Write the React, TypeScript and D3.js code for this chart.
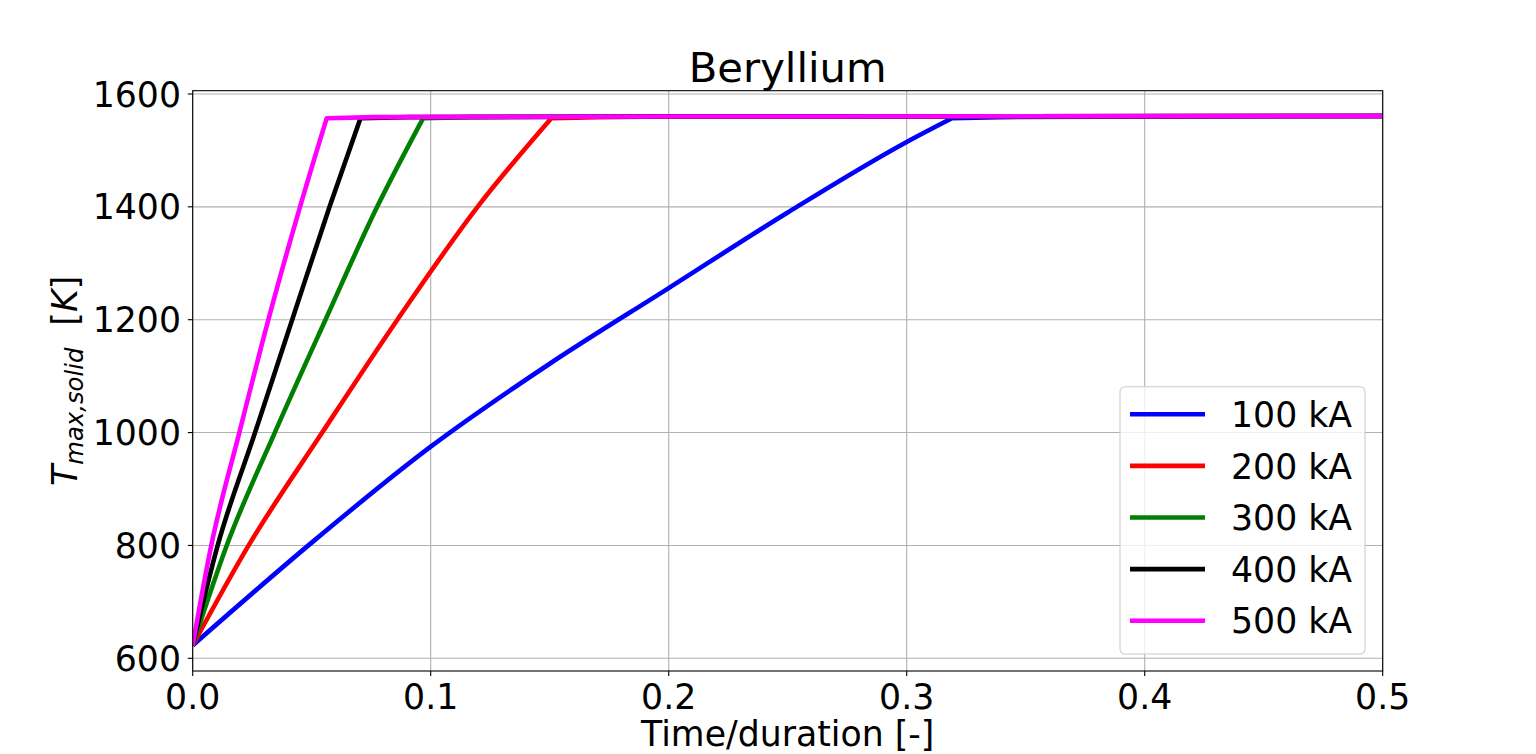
import React from 'react';
import * as d3 from 'd3';

// values
const seriesLabels = ['100 kA', '200 kA', '300 kA', '400 kA', '500 kA'];
const seriesColors = ['#0000ff', '#ff0000', '#008000', '#000000', '#ff00ff'];

// heating ramp (smooth) of each current
const t100 = [0, 0.05, 0.1, 0.15, 0.2, 0.25, 0.3, 0.319];
const T100 = [623, 805, 975, 1122, 1256, 1390, 1515, 1557];
const t200 = [0, 0.0235, 0.0544, 0.086, 0.1197, 0.1507];
const T200 = [623, 800, 1000, 1200, 1400, 1557];
const t300 = [0, 0.0143, 0.0345, 0.0558, 0.0775, 0.0968];
const T300 = [623, 800, 1000, 1200, 1400, 1557];
const t400 = [0, 0.0105, 0.0262, 0.0418, 0.0575, 0.0705];
const T400 = [623, 800, 1000, 1200, 1400, 1557];
const t500 = [0, 0.0078, 0.0196, 0.0318, 0.0451, 0.0563];
const T500 = [623, 800, 1000, 1200, 1400, 1557];

// melting plateau after the ramp
const tPlateau = [0.2, 0.5];
const TPlateau = [1560, 1561];

const xTicks = [0, 0.1, 0.2, 0.3, 0.4, 0.5];
const yTicks = [600, 800, 1000, 1200, 1400, 1600];

const W = 1536;
const H = 754;
const FONT = 'DejaVu Sans, sans-serif';
const FS = 34.7;
const TITLE_FS = 41.7;
const LW = 4.6;

export default function App() {
	const left = 192.7, right = 1382.7, top = 90.7, bottom = 671;
	const x = d3.scaleLinear().domain([0, 0.5]).range([left, right]);
	const y = d3.scaleLinear().domain([577.5, 1605.8]).range([bottom, top]);

	const series = [
		{ t: t100, T: T100 },
		{ t: t200, T: T200 },
		{ t: t300, T: T300 },
		{ t: t400, T: T400 },
		{ t: t500, T: T500 },
	];
	const ramp = d3.line<[number, number]>().x(d => x(d[0])).y(d => y(d[1])).curve(d3.curveMonotoneX);

	const pathFor = (s: { t: number[]; T: number[] }) => {
		const pts = s.t.map((v, j) => [v, s.T[j]] as [number, number]);
		const endT = s.t[s.t.length - 1];
		let d = ramp(pts) || '';
		// short settling step then the flat plateau
		const tail: [number, number][] = [[endT + 0.02, 1559]];
		tPlateau.forEach((v, j) => { if (v > endT + 0.02) tail.push([v, TPlateau[j]]); });
		tail.forEach(p => { d += `L${x(p[0])},${y(p[1])}`; });
		return d;
	};

	// legend geometry
	const lgX = 1120, lgY = 386.7, lgW = 245, lgH = 267.3;
	const rowY = (i: number) => 414.3 + i * 51.6;

	return (
		<div style={{ position: 'absolute', left: 0, top: 0 }}>
			<svg width={W} height={H} style={{ display: 'block', background: '#fff' }} fontFamily={FONT}>
				<defs>
					<clipPath id="plotClip">
						<rect x={left} y={top} width={right - left} height={bottom - top} />
					</clipPath>
				</defs>

				{/* grid */}
				<g stroke="#b0b0b0" strokeWidth={1.1}>
					{xTicks.map(v => (
						<line key={'gx' + v} x1={x(v)} x2={x(v)} y1={top} y2={bottom} />
					))}
					{yTicks.map(v => (
						<line key={'gy' + v} x1={left} x2={right} y1={y(v)} y2={y(v)} />
					))}
				</g>

				{/* data */}
				<g clipPath="url(#plotClip)" fill="none" strokeWidth={LW} strokeLinejoin="round" strokeLinecap="butt">
					{series.map((s, i) => (
						<path key={i} d={pathFor(s)} stroke={seriesColors[i]} />
					))}
				</g>

				{/* spines */}
				<rect x={left} y={top} width={right - left} height={bottom - top} fill="none" stroke="#000" strokeWidth={1.1} />

				{/* x ticks */}
				<g fontSize={FS} textAnchor="middle" fill="#000">
					{xTicks.map(v => (
						<g key={'xt' + v}>
							<line x1={x(v)} x2={x(v)} y1={bottom} y2={bottom + 4.9} stroke="#000" strokeWidth={1.1} />
							<text x={x(v)} y={709}>{d3.format('.1f')(v)}</text>
						</g>
					))}
				</g>

				{/* y ticks */}
				<g fontSize={FS} textAnchor="end" fill="#000">
					{yTicks.map(v => (
						<g key={'yt' + v}>
							<line x1={left - 4.9} x2={left} y1={y(v)} y2={y(v)} stroke="#000" strokeWidth={1.1} />
							<text x={181} y={y(v) + 12.6}>{v}</text>
						</g>
					))}
				</g>

				{/* title and axis labels */}
				<text x={(left + right) / 2} y={82} textAnchor="middle" fontSize={TITLE_FS}>Beryllium</text>
				<text x={(left + right) / 2} y={746} textAnchor="middle" fontSize={FS}>Time/duration [-]</text>
				<text transform={`translate(77, ${(top + bottom) / 2}) rotate(-90)`} textAnchor="middle" fontSize={FS}>
					<tspan fontStyle="oblique">T</tspan>
					<tspan fontStyle="oblique" fontSize={FS * 0.7} dy={6}>max,solid</tspan>
					<tspan dy={-6}>{'\u00a0\u00a0['}</tspan>
					<tspan fontStyle="oblique">K</tspan>
					<tspan>]</tspan>
				</text>

				{/* legend */}
				<rect x={lgX} y={lgY} width={lgW} height={lgH} rx={5} fill="#fff" fillOpacity={0.8} stroke="#cccccc" strokeWidth={1.1} />
				{seriesLabels.map((lab, i) => (
					<g key={lab}>
						<line x1={1130} x2={1205} y1={rowY(i)} y2={rowY(i)} stroke={seriesColors[i]} strokeWidth={LW} />
						<text x={1231} y={rowY(i) + 12.6} fontSize={FS}>{lab}</text>
					</g>
				))}
			</svg>
		</div>
	);
}
